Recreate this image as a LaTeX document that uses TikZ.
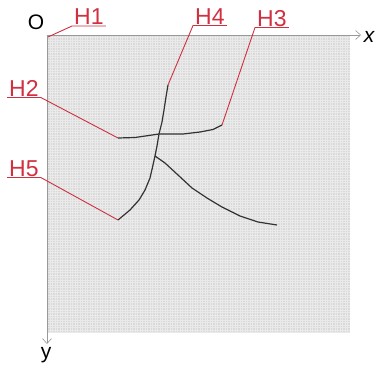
\documentclass[tikz,border=0pt]{standalone}
\usepackage{fontspec}
\setmainfont{Liberation Sans}
\usetikzlibrary{arrows.meta}
\definecolor{tagred}{RGB}{208,48,64}

\begin{document}
\begin{tikzpicture}[
  x=1pt, y=-1pt,
  tag/.style={anchor=south west, text=tagred, font=\fontsize{23}{23}\selectfont, inner xsep=2pt, inner ysep=1pt},
  leader/.style={draw=tagred, line width=0.9pt},
  crack/.style={draw=black!80, line width=1.2pt, line join=round},
  axis/.style={draw=black!40, line width=0.6pt, -{Straight Barb[length=5pt, width=9pt]}}
]
\useasboundingbox (0,0) rectangle (377,367);

% specimen surface
\fill[black!15] (47,35) rectangle (350,333);
\draw[white, opacity=0.45, line width=0.3pt, step=2.5pt] (47,35) grid (350,333);

% axes
\coordinate (O) at (47,35);
\coordinate (xend) at (361,35);
\coordinate (yend) at (47,344);
\draw[axis] (O) -- (xend);
\draw[axis] (O) -- (yend);
\node[font=\fontsize{21}{21}\selectfont] (olbl) at (36,22) {O};
\node[font=\fontsize{21}{21}\selectfont\itshape] (xlbl) at (369,37) {x};
\node[font=\fontsize{21}{21}\selectfont] (ylbl) at (46,355) {y};

% crack tips
\coordinate (tip1) at (48,37);
\coordinate (tip2) at (118,138);
\coordinate (tip3) at (222,125);
\coordinate (tip4) at (168,85);
\coordinate (tip5) at (118,220);
\coordinate (tip6) at (277,225);
\coordinate (J) at (159,134);
\coordinate (K) at (155,156);

% cracks
\draw[crack] (tip2) -- (135,137.5) -- (J) -- (183,134) -- (200,132) -- (213,129.5) -- (tip3);
\draw[crack] (tip4) -- (166,97) -- (164,110) -- (162,122) -- (J) -- (157,146) -- (K)
  -- (153,165) -- (150,178) -- (145,190) -- (139,200) -- (130,210) -- (tip5);
\draw[crack] (K) -- (165,163) -- (178,175) -- (192,188) -- (207,198) -- (222,207)
  -- (240,216) -- (258,222) -- (tip6);

% labels
\node[tag] (h1) at (72,26) {H1};
\node[tag] (h4) at (193,25.5) {H4};
\node[tag] (h3) at (255,27.5) {H3};
\node[tag] (h2) at (7,97.5) {H2};
\node[tag] (h5) at (7,177.5) {H5};

% underlines and leaders
\draw[leader] (h1.south east) -- (h1.south west) -- (tip1);
\draw[leader] (h4.south east) -- (h4.south west) -- (tip4);
\draw[leader] (h3.south east) -- (h3.south west) -- (tip3);
\draw[leader] (h2.south west) -- (h2.south east) -- (tip2);
\draw[leader] (h5.south west) -- (h5.south east) -- (tip5);
\end{tikzpicture}
\end{document}
